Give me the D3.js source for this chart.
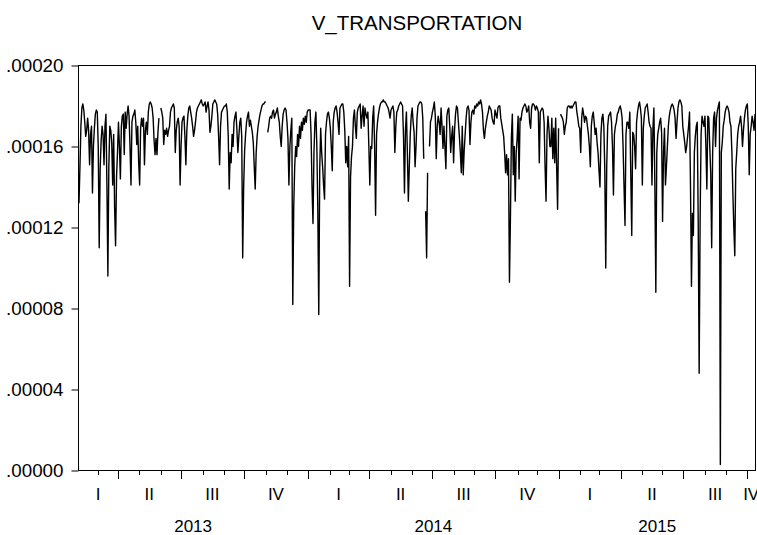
<!DOCTYPE html>
<html>
<head>
<meta charset="utf-8">
<script src="https://cdn.jsdelivr.net/npm/d3@7"></script>
<style>
  html, body { margin: 0; padding: 0; background: #fff; }
  #chart { width: 757px; height: 535px; }
  text { font-family: "Liberation Sans", Arial, sans-serif; fill: #000; }
</style>
</head>
<body>
<div id="chart"></div>
<script>
// Series, in millionths (1e-6), one value per weekday from 1 Feb 2013.
// null = missing observation (the line breaks there)
const vTransportation = [
  132, 150, 170, 179, 181, 178, 172, 165, 168, 174,
  168, 151, 166, 170, 137, 160, 169, 176, 178, 177,
  160, 110, 149, 163, 170, 166, 151, 170, 176, 141,
  96, 150, 170, 168, 162, 141, 166, 130, 111, 145,
  157, 172, 160, 144, 170, 175, 176, 156, 177, 169,
  176, 180, 175, 160, 141, 172, 175, 176, 178, 172,
  161, 170, 152, 141, 169, 174, 170, 174, 151, 168,
  172, 166, 177, 181, 182, 181, 179, 174, 163, 156,
  164, 156, 167, 174, null, 179, 177, 174, 161, 168,
  166, 169, 165, 168, 170, 177, 179, 180, 181, 179,
  157, 168, 172, 174, 170, 141, 160, 172, 174, 175,
  165, 151, 168, 175, 179, 180, 177, 174, 170, 165,
  168, 172, 177, 179, 180, 181, 182, 183, 181, 180,
  181, 182, 177, 180, 182, 178, 167, 170, 175, 181,
  182, 183, 182, 181, 176, 165, 151, 170, 177, 178,
  179, 180, 180, 181, 177, 165, 139, 157, 152, 166,
  160, 172, 175, 177, 168, 157, 165, 172, 174, 165,
  105, 140, 158, 166, 172, 175, 177, 170, 173, 170,
  167, 162, 150, 139, 157, 165, 170, 173, 176, 178,
  180, 181, 181, 182, 182, null, 167, 170, 174, 175,
  174, 177, 178, 174, 176, 177, 179, 175, 172, 165,
  160, 170, 176, 178, 179, 178, 172, 164, 141, 160,
  168, 174, 82, 130, 150, 160, 155, 166, 160, 170,
  164, 172, 168, 174, 171, 175, 172, 177, 178, 178,
  178, 166, 140, 122, 157, 172, 177, 160, 129, 77,
  149, 169, 157, 150, 141, 134, 166, 172, 176, 177,
  174, 169, 160, 148, 172, 177, 179, 180, 177, 172,
  166, 179, 180, 181, 181, 177, 168, 152, 160, 150,
  165, 91, 145, 155, 160, 174, 178, 170, 164, 177,
  179, 180, 181, 169, 175, 180, 170, 179, 176, 174,
  177, 160, 141, 160, 159, 174, 180, 160, 126, 166,
  172, 176, 179, 181, 182, 182, 183, 182, 182, 181,
  180, 179, 177, 174, 178, 179, 180, 177, 157, 170,
  177, 178, 180, 181, 182, 181, 180, 165, 137, 168,
  177, 157, 133, 150, 166, 175, 179, 172, 167, 150,
  160, 174, 180, 181, 182, 182, 181, 174, 154, null,
  128, 105, 147, null, 160, 172, 174, 177, 179, 182,
  175, 154, 170, 175, 172, 166, 179, 170, 159, 170,
  160, 149, 175, 178, 179, 170, 157, 165, 170, 152,
  168, 176, 180, 179, 172, 165, 157, 147, 170, 146,
  158, 166, 174, 179, 180, 178, 161, 172, 177, 178,
  176, 180, 179, 181, 180, 182, 181, 183, 181, 177,
  168, 164, 169, 172, 175, 177, 180, 179, 178, 174,
  172, 171, 178, 176, 174, 179, 180, 180, 174, 171,
  168, 165, 157, 147, 156, 146, 154, 93, 124, 164,
  176, 146, 160, 133, 157, 164, 175, 144, 174, 173,
  177, 179, 180, 181, 180, 177, 178, 180, 172, 169,
  179, 181, 181, 180, 178, 180, 179, 177, 152, 177,
  178, 179, 178, 172, 150, 133, 166, 175, 169, 160,
  160, 174, 154, 169, 152, 174, 150, 129, 169, null,
  176, 175, 174, 172, 166, 170, 172, 179, 180, 180,
  179, 180, 179, 180, 181, 182, 182, 177, 174, 170,
  169, 157, 174, 179, 176, 172, 175, 174, 170, 166,
  160, 150, 170, 175, 177, 172, 166, 169, 162, 157,
  148, 140, 166, 174, 176, 170, 149, 100, 150, 170,
  175, 176, 177, 172, 160, 136, 166, 170, 172, 176,
  177, 179, 180, 178, 174, 160, 140, 121, 166, 172,
  172, 169, 177, 146, 116, 167, 166, 160, 149, 172,
  177, 180, 182, 179, 174, 141, 169, 175, 179, 180,
  181, 177, 172, 170, 169, 141, 169, 179, 141, 88,
  157, 166, 169, 172, 174, 167, 123, 157, 169, 141,
  150, 160, 170, 175, 178, 180, 181, 180, 178, 174,
  164, 172, 179, 182, 183, 182, 180, 170, 166, 162,
  157, 160, 165, 170, 177, 141, 91, 127, 116, 157,
  165, 170, 172, 124, 48, 124, 166, 175, 172, 170,
  175, 160, 139, 175, 174, 160, 147, 110, 157, 174,
  177, 160, 174, 178, 180, 182, 3, 157, 162, 170,
  173, 177, 179, 180, 179, 177, 172, 170, 157, 137,
  120, 106, 149, 157, 166, 170, 172, 175, 170, 160,
  168, 174, 178, 180, 181, 170, 146, 166, 170, 175,
  172, 168, 176
];

const seriesTitle = "V_TRANSPORTATION";
const firstDay = new Date(2013, 1, 1);
const lastDay = new Date(2015, 9, 13);
const valueUnit = 1e-6;
const yTicks = [0, 40, 80, 120, 160, 200];
const quarterNames = ["I", "II", "III", "IV"];

document.addEventListener('DOMContentLoaded', function () {
    const width = 757, height = 535;
    const margin = { top: 65.5, right: 1.5, bottom: 64.5, left: 78.5 };

    const svg = d3.select("#chart")
        .append("svg")
        .attr("width", width)
        .attr("height", height);

    // weekday calendar (5-day frequency) behind the observations
    const days = d3.timeDay.range(firstDay, d3.timeDay.offset(lastDay, 1))
        .filter(d => d.getDay() > 0 && d.getDay() < 6);
    const n = days.length;

    const x = d3.scaleLinear().domain([0, n]).range([margin.left, width - margin.right]);
    const y = d3.scaleLinear().domain([0, 200]).range([height - margin.bottom, margin.top]);
    const x0 = x.range()[0], x1 = x.range()[1];
    const yBottom = y.range()[0];

    // title
    svg.append("text")
        .attr("x", (x0 + x1) / 2)
        .attr("y", 30)
        .attr("text-anchor", "middle")
        .style("font-size", "20.5px")
        .text(seriesTitle);

    // y axis (ticks on the left only)
    const fmt = d3.format(".5f");
    const yAxis = svg.append("g")
        .attr("transform", `translate(${x0},0)`)
        .call(d3.axisLeft(y)
            .tickValues(yTicks)
            .tickSize(7)
            .tickPadding(8)
            .tickFormat(v => fmt(v * valueUnit).replace(/^0/, "")));
    yAxis.select(".domain").remove();
    yAxis.selectAll("text").style("font-size", "18.8px").style("font-family", '"Liberation Sans", Arial, sans-serif');
    yAxis.selectAll("line").attr("stroke", "#000");

    // month and quarter ticks on the time axis
    const monthStarts = [];
    for (let i = 1; i < n; i++) {
        if (days[i].getMonth() !== days[i - 1].getMonth()) monthStarts.push(i);
    }
    svg.append("g").selectAll("line")
        .data(monthStarts)
        .enter()
        .append("line")
        .attr("x1", i => Math.round(x(i)) + 0.5)
        .attr("x2", i => Math.round(x(i)) + 0.5)
        .attr("y1", yBottom)
        .attr("y2", i => yBottom + (days[i].getMonth() % 3 === 0 ? 8.5 : 4.5))
        .attr("stroke", "#000")
        .attr("stroke-width", 1);

    // quarter and year labels, centred on the span they cover
    const quarters = d3.groups(d3.range(n), i => days[i].getFullYear() * 4 + Math.floor(days[i].getMonth() / 3));
    svg.append("g").selectAll("text")
        .data(quarters)
        .enter()
        .append("text")
        .attr("x", q => (x(q[1][0]) + x(q[1][q[1].length - 1] + 1)) / 2)
        .attr("y", 500)
        .attr("text-anchor", "middle")
        .style("font-size", "17px")
        .text(q => quarterNames[q[0] % 4]);

    const years = d3.groups(d3.range(n), i => days[i].getFullYear());
    svg.append("g").selectAll("text")
        .data(years)
        .enter()
        .append("text")
        .attr("x", g => (x(g[1][0]) + x(g[1][g[1].length - 1] + 1)) / 2)
        .attr("y", 532)
        .attr("text-anchor", "middle")
        .style("font-size", "17px")
        .text(g => g[0]);

    // series line
    const line = d3.line()
        .defined(d => d != null)
        .x((d, i) => x(i + 0.5))
        .y(d => y(d));

    svg.append("path")
        .datum(vTransportation)
        .attr("fill", "none")
        .attr("stroke", "#000")
        .attr("stroke-width", 1.4)
        .attr("stroke-linejoin", "round")
        .attr("d", line);

    // plot frame
    svg.append("rect")
        .attr("x", x0)
        .attr("y", margin.top)
        .attr("width", x1 - x0)
        .attr("height", yBottom - margin.top)
        .attr("fill", "none")
        .attr("stroke", "#000")
        .attr("stroke-width", 1);
});
</script>
</body>
</html>
